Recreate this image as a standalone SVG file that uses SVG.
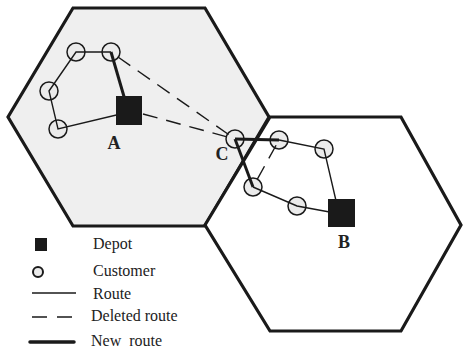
<svg xmlns="http://www.w3.org/2000/svg" width="463" height="351" viewBox="0 0 463 351">
<style>
.hex{stroke:#1a1a1a;stroke-width:3.2;stroke-linejoin:miter}
.thin{stroke:#1a1a1a;stroke-width:1.4;fill:none}
.thick{stroke:#1a1a1a;stroke-width:3;fill:none}
.dash{stroke:#1a1a1a;stroke-width:1.4;fill:none;stroke-dasharray:15 9}
.cust{fill:#ebebeb;stroke:#1a1a1a;stroke-width:1.5}
.depot{fill:#1a1a1a}
.lbl{font-family:"Liberation Serif",serif;font-weight:bold;font-size:18px;fill:#222}
.leg{font-family:"Liberation Serif",serif;font-size:16px;fill:#222;white-space:pre}
</style>
<rect width="463" height="351" fill="#fff"/>
<g id="hexA"><polygon class="hex" fill="#efefef" points="73,8 205,8 269,117 205,226 73,226 8,117"/></g>
<g id="hexB"><polygon class="hex" fill="#fff" points="270,117 401,117 461,225 401,331 270,331 205,225"/></g>
<g id="customers">
<circle id="c1" class="cust" cx="76" cy="52" r="9"/>
<circle id="c2" class="cust" cx="111" cy="52" r="9"/>
<circle id="c3" class="cust" cx="49" cy="91" r="9"/>
<circle id="c4" class="cust" cx="58" cy="129" r="9"/>
<circle id="cC" class="cust" cx="235" cy="139" r="9"/>
<circle id="b1" class="cust" cx="279" cy="140" r="9"/>
<circle id="b2" class="cust" cx="324" cy="149" r="9"/>
<circle id="b3" class="cust" cx="253" cy="187" r="9"/>
<circle id="b4" class="cust" cx="297" cy="206" r="9"/>
</g>
<g id="connectors">
<polyline class="thin" points="129,112 58,129 49,91 76,52 111,52"/>
<line class="thick" x1="111" y1="52" x2="125" y2="100"/>
<line class="dash" x1="118" y1="57" x2="235" y2="139"/>
<line class="dash" x1="143" y1="114" x2="235" y2="139"/>
<line class="thick" x1="235" y1="139" x2="279" y2="140"/>
<line class="thick" x1="235" y1="139" x2="253" y2="187"/>
<polyline class="thin" points="279,140 324,149 337,205"/>
<polyline class="thin" points="335,213 297,206 253,187"/>
<line class="dash" x1="279" y1="140" x2="253" y2="187" stroke-dashoffset="-6"/>
</g>
<g id="depotA"><rect class="depot" x="116" y="96" width="26" height="29"/><text class="lbl" x="114" y="149" text-anchor="middle">A</text></g>
<g id="depotB"><rect class="depot" x="328" y="199" width="27" height="28"/><text class="lbl" x="344" y="248" text-anchor="middle">B</text></g>
<g id="labelC"><text class="lbl" x="222" y="160" text-anchor="middle" fill="#333">C</text></g>
<g id="legend">
<rect class="depot" x="35" y="238" width="12" height="13"/>
<text class="leg" x="93" y="249">Depot</text>
<circle cx="38" cy="272" r="5" fill="#ebebeb" stroke="#1a1a1a" stroke-width="2"/>
<text class="leg" x="93" y="276">Customer</text>
<line class="thin" x1="32" y1="293" x2="76" y2="293"/>
<text class="leg" x="93" y="299">Route</text>
<line x1="32" y1="317" x2="72" y2="317" stroke="#1a1a1a" stroke-width="1.6" stroke-dasharray="15 10"/>
<text class="leg" x="91" y="321">Deleted route</text>
<line x1="30" y1="342" x2="74" y2="342" stroke="#1a1a1a" stroke-width="3.5" stroke-linecap="round"/>
<text class="leg" x="91" y="346">New  route</text>
</g>
</svg>
